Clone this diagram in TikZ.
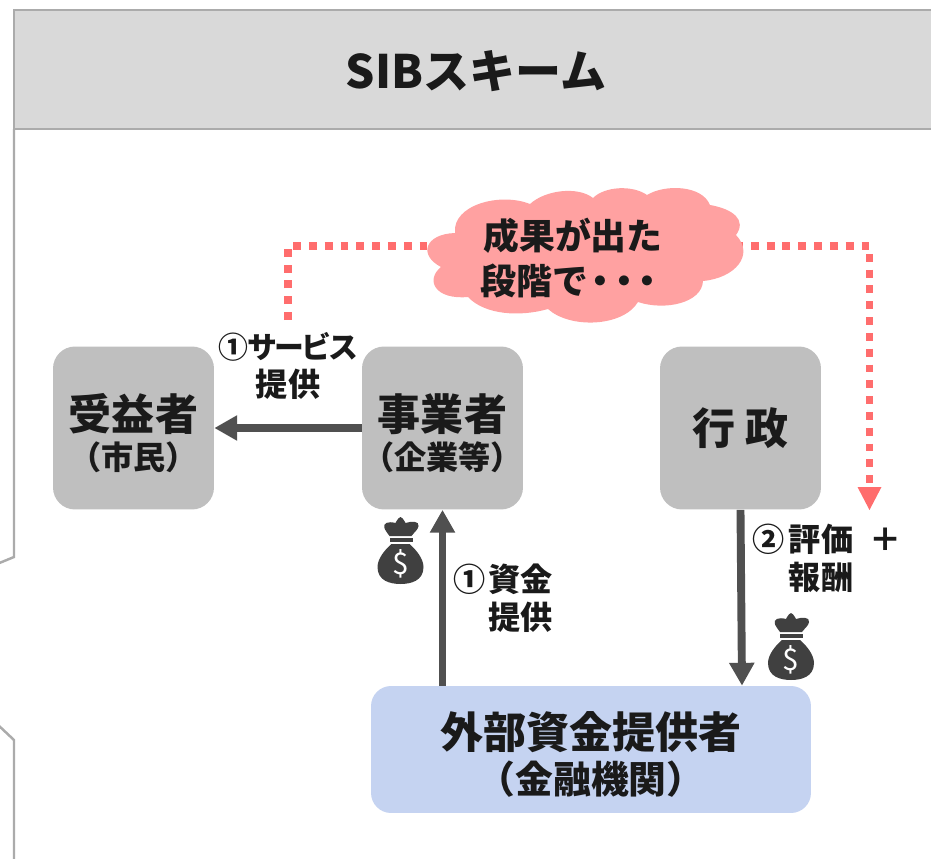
\documentclass[tikz,border=0pt]{standalone}
\usepackage{fontspec}
\setmainfont{Noto Sans CJK JP}
\usetikzlibrary{arrows.meta}
\definecolor{framegray}{HTML}{ABABAB}
\definecolor{headgray}{HTML}{D9D9D9}
\definecolor{boxgray}{HTML}{BFBFBF}
\definecolor{boxblue}{HTML}{C5D3F1}
\definecolor{arrowgray}{HTML}{505050}
\definecolor{baggray}{HTML}{404040}
\definecolor{dotred}{HTML}{FF6D6D}
\definecolor{cloudred}{HTML}{FFA1A1}
\definecolor{inkblack}{HTML}{1A1A1A}
\newcommand{\bigsize}{\fontsize{24.5}{28}\selectfont}
\newcommand{\subsize}{\fontsize{18.3}{22}\selectfont}
\newcommand{\lowered}{\rule{0pt}{27pt}}
\tikzset{
  actorbox/.style={fill=boxgray, rounded corners=0.44cm, minimum width=3.22cm, minimum height=3.26cm, align=center, text=inkblack, font=\bfseries, inner sep=0pt},
  label/.style={text=inkblack, font=\bfseries\fontsize{18.3}{21.5}\selectfont, inner sep=0pt},
  flow/.style={draw=arrowgray, line width=4.5pt, -{Triangle[length=13pt,width=13.6pt]}},
  reddots/.style={draw=dotred, line width=4.5pt, dash pattern=on 4.5pt off 4.5pt},
  moneybag/.pic={
    \fill[baggray] (-11,-4) .. controls (-14,-8) and (-16,-11) .. (-16,-12) .. controls (-18,-17) and (-12,-19) .. (-5,-17) .. controls (-3,-21) and (-1,-23) .. (0,-23) .. controls (1,-23) and (3,-21) .. (5,-17) .. controls (11,-19) and (19,-19) .. (18,-14) .. controls (18,-11) and (14,-8) .. (11,-4) -- cycle;
    \fill[baggray] (-11,-2) rectangle (12,2);
    \fill[baggray] (-9,4) -- (9,4) .. controls (16,10) and (23,19) .. (23,27) .. controls (23,41) and (10,44) .. (0,44) .. controls (-10,44) and (-23,41) .. (-23,27) .. controls (-23,19) and (-16,10) .. (-9,4) -- cycle;
    \node[text=white, font=\fontsize{17}{17}\selectfont, inner sep=0pt] (-sign) at (0,24) {\$};
  }
}
\begin{document}
\begin{tikzpicture}[x=0.02cm, y=-0.02cm]
  \useasboundingbox (0,0) rectangle (931,859);
  \clip (0,0) rectangle (931,859);
  % frame
  \draw[framegray, line width=1.4pt] (14,129) -- (14,557) -- (-3,564);
  \draw[framegray, line width=1.4pt] (-3,724) -- (14,740) -- (14,865);
  \filldraw[draw=framegray, fill=headgray, line width=1.4pt] (14,10) rectangle (940,129);
  \node[text=inkblack, font=\bfseries\fontsize{26.2}{30}\selectfont, inner sep=0pt] (title) at (476,71.5) {SIBスキーム};

  \node[actorbox] (beneficiary) at (133.5,428) {\lowered{\bigsize 受益者}\\[3.4pt]{\subsize （市民）}};
  \node[actorbox] (operator) at (442.5,428) {\lowered{\bigsize 事業者}\\[3.4pt]{\subsize （企業等）}};
  \node[actorbox] (government) at (740.5,428) {\raisebox{-2.2pt}{\bigsize 行 政}};
  \node[actorbox, fill=boxblue, rounded corners=0.4cm, minimum width=8.8cm, minimum height=2.54cm] (investor) at (591,749.5) {\lowered{\bigsize 外部資金提供者}\\[3.4pt]{\fontsize{21.5}{26}\selectfont （金融機関）}};

  \draw[flow] (operator.west) -- (beneficiary.east);
  \draw[flow] (investor.north -| operator.south) -- (operator.south);
  \draw[flow] (government.south) -- ([xshift=0.03cm]investor.north -| government.south);

  \pic (bagone) at (400.5,540) {moneybag};
  \pic (bagtwo) at (791,636) {moneybag};

  \coordinate (dotstart) at (288,320);
  \coordinate (cloudleft) at (440,246);
  \coordinate (cloudright) at (735,246);
  \coordinate (dotend) at (869.5,510);
  \draw[reddots] (dotstart) |- (cloudleft);
  \draw[reddots] (cloudright) -| ([yshift=0.46cm]dotend);
  \fill[dotred] (dotend) -- ++(-12,-23) -- ++(24,0) -- cycle;

  \fill[cloudred] (530,204) .. controls (545,190) and (578,186) .. (593,198)
    .. controls (605,186) and (633,185) .. (647,195)
    .. controls (665,184) and (702,185) .. (710,205)
    .. controls (733,209) and (747,220) .. (736,235)
    .. controls (755,255) and (735,278) .. (703,281)
    .. controls (702,303) and (665,311) .. (638,302)
    .. controls (623,327) and (570,329) .. (548,309)
    .. controls (520,317) and (485,315) .. (468,297)
    .. controls (435,300) and (425,280) .. (441,267)
    .. controls (418,255) and (425,234) .. (455,233)
    .. controls (452,205) and (500,192) .. (530,204) -- cycle;
  \node[text=inkblack, font=\bfseries\fontsize{20.4}{26}\selectfont, align=center, inner sep=0pt] (outcome) at (573,258) {成果が出た\\段階で\kern-3pt・\kern-7pt・\kern-7pt・};

  \node[label, align=center] (servicelabel) at (288,366) {{\fontsize{17}{21.5}\selectfont ①サ\kern-1.8ptー\kern-1.8ptビ\kern-1.8ptス}\\提供};
  \node[label, align=right, anchor=east] (fundlabel) at (553,598) {①\kern1.5pt資金\\提供};
  \node[label, align=left, anchor=west] (rewardlabel) at (752,558) {②\kern2.5pt評価\kern9pt＋\\\phantom{②}\kern2.5pt報酬};
\end{tikzpicture}
\end{document}
